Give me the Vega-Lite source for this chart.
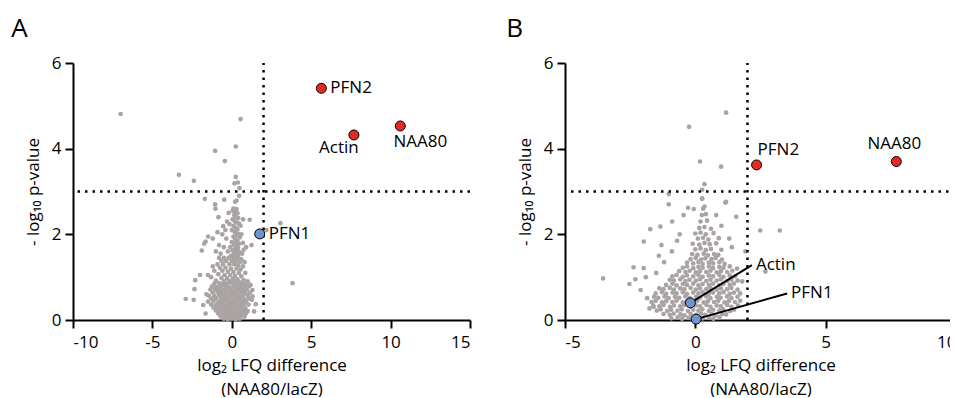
{
"$schema": "https://vega.github.io/schema/vega-lite/v6.json",
"padding": {"left": 11, "top": 16, "right": -8, "bottom": 0},
"bounds": "flush",
"spacing": 95,
"datasets": {
"ga": [
{"x":-7.0,"y":4.81},{"x":0.55,"y":4.69},{"x":0.25,"y":4.05},{"x":-1.05,"y":3.95},{"x":-0.44,"y":3.71},{"x":-3.33,"y":3.39},{"x":-2.39,"y":3.25},{"x":0.25,"y":3.34},{"x":0.17,"y":3.19},{"x":0.38,"y":3.21},{"x":0.48,"y":3.08},{"x":-1.7,"y":2.83},{"x":-0.48,"y":2.81},{"x":0.3,"y":2.79},{"x":0.21,"y":2.76},{"x":0.46,"y":2.9},{"x":-1.03,"y":2.6},{"x":0.3,"y":2.59},{"x":-1.05,"y":2.7},{"x":-0.84,"y":2.4},{"x":-0.54,"y":2.19},{"x":-0.15,"y":2.24},{"x":0.36,"y":2.49},{"x":0.71,"y":2.35},{"x":1.13,"y":2.34},{"x":3.06,"y":2.26},{"x":2.18,"y":2.1},{"x":3.82,"y":0.86},{"x":-1.49,"y":1.95},{"x":-1.74,"y":1.78},{"x":-2.0,"y":1.05},{"x":-2.3,"y":0.93},{"x":-2.9,"y":0.49},{"x":-2.4,"y":0.47},{"x":-2.35,"y":0.72},{"x":-1.89,"y":1.62},{"x":-1.65,"y":1.83},{"x":0.75,"y":1.64},{"x":1.13,"y":0.82},{"x":1.3,"y":0.7},{"x":1.26,"y":0.47},{"x":1.24,"y":1.75},{"x":1.51,"y":0.37},{"x":1.18,"y":0.82},{"x":-0.2,"y":2.5},{"x":0.05,"y":2.55},
{"x":0.1,"y":2.6},{"x":0.2,"y":2.55},{"x":0.3,"y":2.5},{"x":0.15,"y":2.45},{"x":0.25,"y":2.4},{"x":0.4,"y":2.38},{"x":0.05,"y":2.35},{"x":0.2,"y":2.3},{"x":0.3,"y":2.28},{"x":0.45,"y":2.25},{"x":0.1,"y":2.2},{"x":0.25,"y":2.15},{"x":0.35,"y":2.12},{"x":0.0,"y":2.1},{"x":0.2,"y":2.05},{"x":0.4,"y":2.02},{"x":0.3,"y":1.98},{"x":0.1,"y":1.95},{"x":0.5,"y":1.93},{"x":0.2,"y":1.9},{"x":0.35,"y":1.85},{"x":0.0,"y":1.82},{"x":0.25,"y":1.8},{"x":0.45,"y":1.78},{"x":0.15,"y":1.75},{"x":0.3,"y":1.72},{"x":-0.1,"y":1.7},{"x":0.4,"y":1.68},{"x":0.2,"y":1.65},{"x":0.05,"y":1.62},{"x":0.35,"y":1.6},{"x":0.5,"y":1.58},{"x":0.15,"y":1.55},{"x":0.25,"y":1.52},{"x":-0.05,"y":1.5},{"x":0.4,"y":1.5},
{"x":-0.3,"y":2.3},{"x":-0.6,"y":2.0},{"x":-0.35,"y":1.9},{"x":-0.8,"y":1.75},{"x":-0.5,"y":1.7},{"x":-0.25,"y":1.6},{"x":-0.7,"y":1.55},{"x":-1.0,"y":1.6},{"x":-0.4,"y":2.1},{"x":-0.9,"y":2.05},{"x":0.6,"y":2.0},{"x":0.7,"y":1.8},{"x":0.65,"y":1.55},{"x":0.9,"y":1.7},{"x":-1.2,"y":1.9},{"x":0.55,"y":2.2},
{"x":-0.8,"y":1.45},{"x":-0.5,"y":1.45},{"x":-0.2,"y":1.45},{"x":0.1,"y":1.45},{"x":0.35,"y":1.45},{"x":0.6,"y":1.42},{"x":-0.65,"y":1.38},{"x":-0.35,"y":1.38},{"x":0.0,"y":1.38},{"x":0.25,"y":1.38},{"x":0.5,"y":1.35},{"x":0.8,"y":1.35},{"x":-0.9,"y":1.3},{"x":-0.55,"y":1.3},{"x":-0.15,"y":1.3},{"x":0.15,"y":1.3},{"x":0.4,"y":1.28},{"x":0.7,"y":1.25},{"x":-0.75,"y":1.22},{"x":-0.4,"y":1.22},{"x":-0.05,"y":1.2},{"x":0.3,"y":1.2},{"x":0.55,"y":1.18},{"x":-1.1,"y":1.15},{"x":-0.6,"y":1.15},{"x":-0.25,"y":1.13},{"x":0.1,"y":1.12},{"x":0.45,"y":1.1},{"x":0.85,"y":1.1},{"x":-0.85,"y":1.07},{"x":-0.45,"y":1.05},{"x":-0.1,"y":1.05},{"x":0.2,"y":1.03},{"x":0.6,"y":1.02},{"x":-1.3,"y":1.0},{"x":-0.65,"y":0.98},{"x":-0.3,"y":0.97},{"x":0.05,"y":0.96},{"x":0.35,"y":0.95},{"x":0.75,"y":0.93},{"x":-1.0,"y":0.92},{"x":-0.5,"y":0.9},{"x":-0.15,"y":0.9},{"x":0.2,"y":0.9},{"x":0.5,"y":0.88},{"x":1.0,"y":0.9},{"x":-1.5,"y":1.05},{"x":-1.2,"y":1.25},
{"x":-1.1,"y":0.85},{"x":-0.8,"y":0.86},{"x":-0.55,"y":0.84},{"x":-0.3,"y":0.85},{"x":-0.05,"y":0.87},{"x":0.2,"y":0.84},{"x":0.45,"y":0.86},{"x":0.7,"y":0.85},{"x":0.95,"y":0.83},
{"x":-1.25,"y":0.78},{"x":-0.95,"y":0.77},{"x":-0.7,"y":0.79},{"x":-0.4,"y":0.78},{"x":-0.15,"y":0.76},{"x":0.1,"y":0.79},{"x":0.35,"y":0.78},{"x":0.6,"y":0.77},{"x":0.85,"y":0.78},{"x":1.1,"y":0.79},
{"x":-1.35,"y":0.71},{"x":-1.05,"y":0.72},{"x":-0.8,"y":0.7},{"x":-0.55,"y":0.71},{"x":-0.3,"y":0.72},{"x":-0.05,"y":0.7},{"x":0.2,"y":0.71},{"x":0.45,"y":0.72},{"x":0.7,"y":0.7},{"x":0.95,"y":0.71},
{"x":-1.2,"y":0.64},{"x":-0.9,"y":0.65},{"x":-0.65,"y":0.63},{"x":-0.4,"y":0.64},{"x":-0.15,"y":0.65},{"x":0.1,"y":0.63},{"x":0.35,"y":0.64},{"x":0.6,"y":0.65},{"x":0.85,"y":0.63},{"x":1.15,"y":0.64},
{"x":-1.45,"y":0.57},{"x":-1.1,"y":0.56},{"x":-0.8,"y":0.58},{"x":-0.55,"y":0.57},{"x":-0.3,"y":0.56},{"x":-0.05,"y":0.58},{"x":0.2,"y":0.57},{"x":0.45,"y":0.56},{"x":0.7,"y":0.58},{"x":1.0,"y":0.57},
{"x":-1.3,"y":0.5},{"x":-1.0,"y":0.51},{"x":-0.7,"y":0.49},{"x":-0.45,"y":0.5},{"x":-0.2,"y":0.51},{"x":0.05,"y":0.49},{"x":0.3,"y":0.5},{"x":0.55,"y":0.51},{"x":0.8,"y":0.49},{"x":1.1,"y":0.5},
{"x":-1.5,"y":0.43},{"x":-1.15,"y":0.44},{"x":-0.85,"y":0.42},{"x":-0.6,"y":0.43},{"x":-0.35,"y":0.44},{"x":-0.1,"y":0.42},{"x":0.15,"y":0.43},{"x":0.4,"y":0.44},{"x":0.65,"y":0.42},{"x":0.9,"y":0.43},
{"x":-1.3,"y":0.36},{"x":-1.0,"y":0.35},{"x":-0.75,"y":0.37},{"x":-0.5,"y":0.36},{"x":-0.25,"y":0.35},{"x":0.0,"y":0.37},{"x":0.25,"y":0.36},{"x":0.5,"y":0.35},{"x":0.75,"y":0.37},{"x":1.05,"y":0.36},
{"x":-1.15,"y":0.29},{"x":-0.9,"y":0.3},{"x":-0.65,"y":0.28},{"x":-0.4,"y":0.29},{"x":-0.15,"y":0.3},{"x":0.1,"y":0.28},{"x":0.35,"y":0.29},{"x":0.6,"y":0.3},{"x":0.85,"y":0.28},
{"x":-1.0,"y":0.22},{"x":-0.75,"y":0.23},{"x":-0.5,"y":0.21},{"x":-0.25,"y":0.22},{"x":0.0,"y":0.23},{"x":0.25,"y":0.21},{"x":0.5,"y":0.22},{"x":0.75,"y":0.23},{"x":1.0,"y":0.21},
{"x":-0.85,"y":0.15},{"x":-0.6,"y":0.16},{"x":-0.35,"y":0.14},{"x":-0.1,"y":0.15},{"x":0.15,"y":0.16},{"x":0.4,"y":0.14},{"x":0.65,"y":0.15},{"x":0.9,"y":0.16},
{"x":-0.7,"y":0.08},{"x":-0.45,"y":0.09},{"x":-0.2,"y":0.07},{"x":0.05,"y":0.08},{"x":0.3,"y":0.09},{"x":0.55,"y":0.07},{"x":0.8,"y":0.08},
{"x":-0.5,"y":0.03},{"x":-0.25,"y":0.02},{"x":0.0,"y":0.03},{"x":0.25,"y":0.02},{"x":0.5,"y":0.03},
{"x":-1.6,"y":0.6},{"x":-1.8,"y":0.35},{"x":1.3,"y":0.55},{"x":1.4,"y":0.2},{"x":-1.65,"y":0.15}
],
"gb": [
{"x":1.18,"y":4.84},{"x":-0.24,"y":4.51},{"x":0.18,"y":3.7},{"x":0.99,"y":3.58},{"x":0.35,"y":3.17},{"x":0.26,"y":3.04},{"x":-1.02,"y":2.94},{"x":0.26,"y":2.84},{"x":-1.02,"y":2.7},{"x":1.18,"y":2.76},{"x":-0.28,"y":2.62},{"x":-0.06,"y":2.59},{"x":0.26,"y":2.83},{"x":0.35,"y":2.65},{"x":-3.54,"y":0.97},{"x":-1.98,"y":1.83},{"x":-1.73,"y":2.12},{"x":-1.34,"y":2.18},{"x":-0.45,"y":2.45},{"x":-0.89,"y":2.3},{"x":1.15,"y":2.74},{"x":1.57,"y":2.41},{"x":2.49,"y":2.09},{"x":3.24,"y":2.09},{"x":2.69,"y":1.13},{"x":1.92,"y":1.6},{"x":-2.37,"y":1.23},{"x":-1.98,"y":1.21},{"x":-2.3,"y":0.95},{"x":-2.53,"y":0.84},{"x":-1.85,"y":0.51},{"x":-1.6,"y":0.31},{"x":-1.76,"y":0.27},{"x":-1.4,"y":1.5},{"x":-1.2,"y":1.35},{"x":-1.5,"y":1.1},{"x":-0.9,"y":1.6},{"x":-0.7,"y":1.85},{"x":1.3,"y":1.9},{"x":1.0,"y":2.2},{"x":1.6,"y":1.2},{"x":1.8,"y":0.9},{"x":-2.1,"y":0.7},{"x":-1.9,"y":1.0},{"x":-1.3,"y":1.75},{"x":-0.6,"y":2.0},{"x":0.8,"y":2.45},{"x":1.4,"y":1.7},
{"x":-0.92,"y":0.04},{"x":-0.68,"y":0.06},{"x":-0.51,"y":0.03},{"x":-0.27,"y":0.05},{"x":-0.12,"y":0.03},{"x":0.13,"y":0.06},{"x":0.28,"y":0.04},{"x":0.52,"y":0.05},{"x":0.69,"y":0.03},{"x":0.93,"y":0.06},
{"x":-1.22,"y":0.14},{"x":-0.98,"y":0.12},{"x":-0.83,"y":0.15},{"x":-0.57,"y":0.13},{"x":-0.42,"y":0.11},{"x":-0.18,"y":0.14},{"x":0.03,"y":0.12},{"x":0.22,"y":0.15},{"x":0.38,"y":0.12},{"x":0.63,"y":0.14},{"x":0.78,"y":0.11},{"x":1.03,"y":0.14},{"x":1.18,"y":0.13},
{"x":-1.48,"y":0.22},{"x":-1.33,"y":0.25},{"x":-1.08,"y":0.21},{"x":-0.93,"y":0.24},{"x":-0.68,"y":0.22},{"x":-0.52,"y":0.25},{"x":-0.28,"y":0.21},{"x":-0.08,"y":0.24},{"x":0.12,"y":0.22},{"x":0.27,"y":0.25},{"x":0.52,"y":0.21},{"x":0.68,"y":0.24},{"x":0.92,"y":0.22},{"x":1.07,"y":0.25},{"x":1.33,"y":0.21},{"x":1.48,"y":0.24},
{"x":-1.62,"y":0.34},{"x":-1.38,"y":0.32},{"x":-1.22,"y":0.35},{"x":-0.97,"y":0.31},{"x":-0.82,"y":0.34},{"x":-0.58,"y":0.32},{"x":-0.42,"y":0.35},{"x":-0.17,"y":0.31},{"x":0.02,"y":0.34},{"x":0.18,"y":0.32},{"x":0.43,"y":0.35},{"x":0.58,"y":0.31},{"x":0.82,"y":0.34},{"x":0.98,"y":0.32},{"x":1.22,"y":0.35},{"x":1.38,"y":0.31},{"x":1.63,"y":0.34},
{"x":-1.68,"y":0.42},{"x":-1.52,"y":0.45},{"x":-1.28,"y":0.41},{"x":-1.12,"y":0.44},{"x":-0.88,"y":0.42},{"x":-0.72,"y":0.45},{"x":-0.48,"y":0.41},{"x":-0.32,"y":0.44},{"x":-0.08,"y":0.42},{"x":0.08,"y":0.45},{"x":0.32,"y":0.41},{"x":0.48,"y":0.44},{"x":0.72,"y":0.42},{"x":0.88,"y":0.45},{"x":1.12,"y":0.41},{"x":1.28,"y":0.44},{"x":1.52,"y":0.42},{"x":1.72,"y":0.45},
{"x":-1.58,"y":0.54},{"x":-1.42,"y":0.52},{"x":-1.18,"y":0.55},{"x":-1.03,"y":0.51},{"x":-0.78,"y":0.54},{"x":-0.62,"y":0.52},{"x":-0.38,"y":0.55},{"x":-0.22,"y":0.51},{"x":0.03,"y":0.54},{"x":0.18,"y":0.52},{"x":0.42,"y":0.55},{"x":0.58,"y":0.51},{"x":0.83,"y":0.54},{"x":0.97,"y":0.52},{"x":1.22,"y":0.55},{"x":1.38,"y":0.51},{"x":1.62,"y":0.54},
{"x":-1.52,"y":0.62},{"x":-1.28,"y":0.65},{"x":-1.12,"y":0.61},{"x":-0.87,"y":0.64},{"x":-0.72,"y":0.62},{"x":-0.48,"y":0.65},{"x":-0.32,"y":0.61},{"x":-0.08,"y":0.64},{"x":0.12,"y":0.62},{"x":0.28,"y":0.65},{"x":0.52,"y":0.61},{"x":0.68,"y":0.64},{"x":0.92,"y":0.62},{"x":1.08,"y":0.65},{"x":1.32,"y":0.61},{"x":1.48,"y":0.64},{"x":1.72,"y":0.62},
{"x":-1.38,"y":0.74},{"x":-1.22,"y":0.72},{"x":-0.98,"y":0.75},{"x":-0.82,"y":0.71},{"x":-0.58,"y":0.74},{"x":-0.42,"y":0.72},{"x":-0.18,"y":0.75},{"x":0.02,"y":0.71},{"x":0.18,"y":0.74},{"x":0.42,"y":0.72},{"x":0.58,"y":0.75},{"x":0.82,"y":0.71},{"x":0.98,"y":0.74},{"x":1.22,"y":0.72},{"x":1.38,"y":0.75},{"x":1.62,"y":0.71},
{"x":-1.12,"y":0.82},{"x":-0.88,"y":0.85},{"x":-0.72,"y":0.81},{"x":-0.48,"y":0.84},{"x":-0.32,"y":0.82},{"x":-0.08,"y":0.85},{"x":0.12,"y":0.81},{"x":0.28,"y":0.84},{"x":0.52,"y":0.82},{"x":0.68,"y":0.85},{"x":0.92,"y":0.81},{"x":1.08,"y":0.84},{"x":1.32,"y":0.82},{"x":1.48,"y":0.85},
{"x":-0.98,"y":0.94},{"x":-0.82,"y":0.92},{"x":-0.58,"y":0.95},{"x":-0.38,"y":0.91},{"x":-0.22,"y":0.94},{"x":0.02,"y":0.92},{"x":0.18,"y":0.95},{"x":0.42,"y":0.91},{"x":0.58,"y":0.94},{"x":0.82,"y":0.92},{"x":0.98,"y":0.95},{"x":1.22,"y":0.91},{"x":1.38,"y":0.94},{"x":1.62,"y":0.92},
{"x":-0.88,"y":1.02},{"x":-0.72,"y":1.05},{"x":-0.48,"y":1.01},{"x":-0.32,"y":1.04},{"x":-0.08,"y":1.02},{"x":0.12,"y":1.05},{"x":0.28,"y":1.01},{"x":0.52,"y":1.04},{"x":0.68,"y":1.02},{"x":0.92,"y":1.05},{"x":1.08,"y":1.01},{"x":1.32,"y":1.04},{"x":1.52,"y":1.02},
{"x":-0.62,"y":1.14},{"x":-0.38,"y":1.12},{"x":-0.22,"y":1.15},{"x":0.02,"y":1.11},{"x":0.18,"y":1.14},{"x":0.42,"y":1.12},{"x":0.58,"y":1.15},{"x":0.82,"y":1.11},{"x":0.98,"y":1.14},{"x":1.22,"y":1.12},{"x":1.42,"y":1.15},
{"x":-0.48,"y":1.22},{"x":-0.32,"y":1.25},{"x":-0.08,"y":1.21},{"x":0.12,"y":1.24},{"x":0.28,"y":1.22},{"x":0.52,"y":1.25},{"x":0.68,"y":1.21},{"x":0.92,"y":1.24},{"x":1.08,"y":1.22},{"x":1.32,"y":1.25},
{"x":-0.32,"y":1.34},{"x":-0.08,"y":1.32},{"x":0.12,"y":1.35},{"x":0.28,"y":1.31},{"x":0.52,"y":1.34},{"x":0.68,"y":1.32},{"x":0.92,"y":1.35},{"x":1.12,"y":1.31},
{"x":-0.18,"y":1.42},{"x":0.02,"y":1.45},{"x":0.22,"y":1.41},{"x":0.38,"y":1.44},{"x":0.62,"y":1.42},{"x":0.78,"y":1.45},{"x":1.02,"y":1.41},
{"x":-0.12,"y":1.54},{"x":0.08,"y":1.52},{"x":0.32,"y":1.55},{"x":0.48,"y":1.51},{"x":0.72,"y":1.54},{"x":0.88,"y":1.52},
{"x":0.0,"y":1.65},{"x":0.2,"y":1.67},{"x":0.4,"y":1.63},{"x":0.6,"y":1.66},{"x":1.0,"y":1.64},
{"x":-0.1,"y":1.78},{"x":0.15,"y":1.76},{"x":0.35,"y":1.8},{"x":0.55,"y":1.77},{"x":0.8,"y":1.79},
{"x":0.1,"y":1.9},{"x":0.3,"y":1.92},{"x":0.5,"y":1.88},{"x":0.9,"y":1.91},
{"x":0.0,"y":2.02},{"x":0.2,"y":2.04},{"x":0.4,"y":2.0},{"x":0.7,"y":2.03},
{"x":0.15,"y":2.15},{"x":0.35,"y":2.17},{"x":0.6,"y":2.13},
{"x":0.2,"y":2.3},{"x":0.45,"y":2.32},{"x":0.25,"y":2.45},{"x":0.4,"y":2.47},{"x":0.3,"y":2.6}
],
"ha": [
{"name":"PFN2","x":5.64,"y":5.41,"sig":"up"},
{"name":"Actin","x":7.69,"y":4.32,"sig":"up"},
{"name":"NAA80","x":10.61,"y":4.53,"sig":"up"},
{"name":"PFN1","x":1.76,"y":2.01,"sig":"ns"}
],
"hb": [
{"name":"PFN2","x":2.35,"y":3.62,"sig":"up"},
{"name":"NAA80","x":7.71,"y":3.7,"sig":"up"},
{"name":"Actin","x":-0.19,"y":0.4,"sig":"ns","lx":2.17,"ly":1.28},
{"name":"PFN1","x":0.03,"y":0.02,"sig":"ns","lx":3.52,"ly":0.62}
]
},
"hconcat": [
{
"width": 397, "height": 257,
"title": {"text": "A", "anchor": "start", "frame": "bounds", "fontSize": 26, "fontWeight": "normal", "dx": -13, "offset": 12, "color": "black"},
"layer": [
{"data": {"name": "ga"}, "mark": {"type": "circle", "size": 22, "color": "#aaa3a3", "opacity": 1},
 "encoding": {
  "x": {"field": "x", "type": "quantitative", "scale": {"domain": [-10, 15], "nice": false, "zero": false}, "axis": {"values": [-10, -5, 0, 5, 10, 15], "labelExpr": "replace(datum.label, '−', '-')", "labelPadding": 6, "title": ["log₂ LFQ difference", "(NAA80/lacZ)"], "titleLineHeight": 24, "titlePadding": 7}},
  "y": {"field": "y", "type": "quantitative", "scale": {"domain": [0, 6], "nice": false}, "axis": {"values": [0, 2, 4, 6], "title": "- log₁₀ p-value", "titlePadding": 9}}
 }},
{"data": {"values": [{}]}, "mark": {"type": "rule", "strokeDash": [2.5, 5], "strokeWidth": 2.5, "color": "black"}, "encoding": {"y": {"datum": 3}}},
{"data": {"values": [{}]}, "mark": {"type": "rule", "strokeDash": [2.5, 5], "strokeWidth": 2.5, "color": "black"}, "encoding": {"x": {"datum": 2}, "y": {"datum": 0}, "y2": {"datum": 6}}},
{"data": {"name": "ha"}, "mark": {"type": "circle", "size": 100, "stroke": "black", "strokeWidth": 1, "opacity": 1},
 "encoding": {"x": {"field": "x", "type": "quantitative"}, "y": {"field": "y", "type": "quantitative"},
  "color": {"field": "sig", "type": "nominal", "scale": {"domain": ["up", "ns"], "range": ["#e52a24", "#7094cf"]}, "legend": null}}},
{"data": {"name": "ha"}, "transform": [{"filter": "datum.name == 'PFN2' || datum.name == 'PFN1'"}],
 "mark": {"type": "text", "align": "left", "baseline": "middle", "dx": 9, "fontSize": 17, "color": "black"},
 "encoding": {"x": {"field": "x", "type": "quantitative"}, "y": {"field": "y", "type": "quantitative"}, "text": {"field": "name"}}},
{"data": {"name": "ha"}, "transform": [{"filter": "datum.name == 'Actin'"}],
 "mark": {"type": "text", "align": "center", "baseline": "middle", "dx": -15, "dy": 13, "fontSize": 17, "color": "black"},
 "encoding": {"x": {"field": "x", "type": "quantitative"}, "y": {"field": "y", "type": "quantitative"}, "text": {"field": "name"}}},
{"data": {"name": "ha"}, "transform": [{"filter": "datum.name == 'NAA80'"}],
 "mark": {"type": "text", "align": "center", "baseline": "middle", "dx": 20, "dy": 16, "fontSize": 17, "color": "black"},
 "encoding": {"x": {"field": "x", "type": "quantitative"}, "y": {"field": "y", "type": "quantitative"}, "text": {"field": "name"}}}
]
},
{
"width": 391, "height": 257,
"title": {"text": "B", "anchor": "start", "frame": "bounds", "fontSize": 26, "fontWeight": "normal", "dx": -10, "offset": 12, "color": "black"},
"layer": [
{"data": {"name": "gb"}, "mark": {"type": "circle", "size": 22, "color": "#aaa3a3", "opacity": 1},
 "encoding": {
  "x": {"field": "x", "type": "quantitative", "scale": {"domain": [-5, 10], "nice": false, "zero": false}, "axis": {"values": [-5, 0, 5, 10], "labelExpr": "replace(datum.label, '−', '-')", "labelPadding": 6, "title": ["log₂ LFQ difference", "(NAA80/lacZ)"], "titleLineHeight": 24, "titlePadding": 7}},
  "y": {"field": "y", "type": "quantitative", "scale": {"domain": [0, 6], "nice": false}, "axis": {"values": [0, 2, 4, 6], "title": "- log₁₀ p-value", "titlePadding": 9}}
 }},
{"data": {"values": [{}]}, "mark": {"type": "rule", "strokeDash": [2.5, 5], "strokeWidth": 2.5, "color": "black"}, "encoding": {"y": {"datum": 3}}},
{"data": {"values": [{}]}, "mark": {"type": "rule", "strokeDash": [2.5, 5], "strokeWidth": 2.5, "color": "black"}, "encoding": {"x": {"datum": 2}, "y": {"datum": 0}, "y2": {"datum": 6}}},
{"data": {"name": "hb"}, "transform": [{"filter": "isValid(datum.lx)"}], "mark": {"type": "rule", "strokeWidth": 2, "color": "black"},
 "encoding": {"x": {"field": "x", "type": "quantitative"}, "y": {"field": "y", "type": "quantitative"}, "x2": {"field": "lx"}, "y2": {"field": "ly"}}},
{"data": {"name": "hb"}, "mark": {"type": "circle", "size": 100, "stroke": "black", "strokeWidth": 1, "opacity": 1},
 "encoding": {"x": {"field": "x", "type": "quantitative"}, "y": {"field": "y", "type": "quantitative"},
  "color": {"field": "sig", "type": "nominal", "scale": {"domain": ["up", "ns"], "range": ["#e52a24", "#7094cf"]}, "legend": null}}},
{"data": {"name": "hb"}, "transform": [{"filter": "datum.name == 'PFN2'"}],
 "mark": {"type": "text", "align": "left", "baseline": "middle", "dx": 1, "dy": -15, "fontSize": 17, "color": "black"},
 "encoding": {"x": {"field": "x", "type": "quantitative"}, "y": {"field": "y", "type": "quantitative"}, "text": {"field": "name"}}},
{"data": {"name": "hb"}, "transform": [{"filter": "datum.name == 'NAA80'"}],
 "mark": {"type": "text", "align": "center", "baseline": "middle", "dx": -2, "dy": -18, "fontSize": 17, "color": "black"},
 "encoding": {"x": {"field": "x", "type": "quantitative"}, "y": {"field": "y", "type": "quantitative"}, "text": {"field": "name"}}},
{"data": {"name": "hb"}, "transform": [{"filter": "isValid(datum.lx)"}],
 "mark": {"type": "text", "align": "left", "baseline": "middle", "dx": 4, "fontSize": 17, "color": "black"},
 "encoding": {"x": {"field": "lx", "type": "quantitative"}, "y": {"field": "ly", "type": "quantitative"}, "text": {"field": "name"}}}
]
}
],
"config": {
"font": "Open Sans",
"background": "white",
"view": {"stroke": null},
"axis": {"domainColor": "black", "domainWidth": 2, "tickColor": "black", "tickWidth": 2, "tickSize": 8, "labelFontSize": 17, "labelColor": "black", "labelPadding": 4, "titleFontSize": 17, "titleFontWeight": "normal", "titleColor": "black", "grid": false, "labelFont": "Open Sans", "titleFont": "Open Sans"}
}
}
